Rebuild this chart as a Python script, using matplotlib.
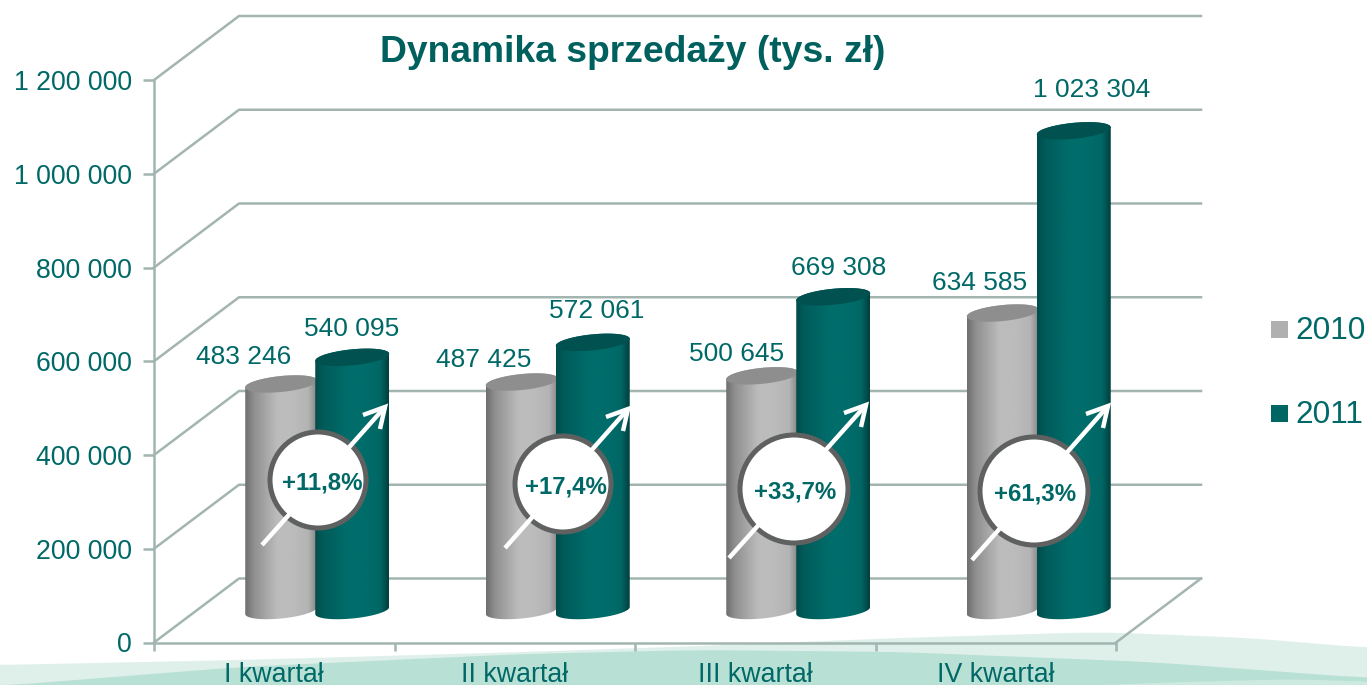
import numpy as np
import matplotlib
matplotlib.use("Agg")
import matplotlib.pyplot as plt
from matplotlib.colors import to_rgb
from matplotlib.patches import Circle, Polygon

plt.rcParams['font.family'] = ['Liberation Sans', 'DejaVu Sans']

# dane
kwartaly = ['I kwartał', 'II kwartał', 'III kwartał', 'IV kwartał']
lata = ['2010', '2011']
sprzedaz_2010 = [483246, 487425, 500645, 634585]
sprzedaz_2011 = [540095, 572061, 669308, 1023304]
dynamika = ['+11,8%', '+17,4%', '+33,7%', '+61,3%']
y_ticks = [0, 200000, 400000, 600000, 800000, 1000000, 1200000]

W, H = 1367, 685
TEAL = '#006967'
LINE = '#a3b5b1'


def gladko(xs, px, py, k=81):
    # krzywa fali wygladzona srednia kroczaca
    y = np.interp(np.arange(-k, W + k + 1), px, py)
    return np.convolve(y, np.ones(k) / k, mode='same')[k:-k]


fig = plt.figure(figsize=(W / 100, H / 100), dpi=100, facecolor='white')

# tlo - fale na dole
bg = fig.add_axes([0, 0, 1, 1], zorder=0)
bg.set_xlim(0, W)
bg.set_ylim(H, 0)
bg.axis('off')
xs = np.arange(0, W + 1)
jasna = gladko(xs, [0, 240, 523, 700, 900, 1100, 1250, 1367], [665, 660, 652, 646, 638, 632, 638, 648])
ciemna = gladko(xs, [0, 240, 523, 700, 900, 1150, 1367], [686, 667, 654, 650, 652, 662, 678])
dol = gladko(xs, [1000, 1150, 1300, 1367], [690, 683, 679, 682])
bg.fill_between(xs, jasna, H, color='#dff0eb', lw=0)
bg.fill_between(xs, ciemna, H, color='#b9e0d4', lw=0)
bg.fill_between(xs, dol, H, color='#cdeae1', lw=0)

# glowny wykres, os y od 642 do 80 px, os x od 154 do 1116 px
x0, x1, y0, y1 = 154, 1116, 642.5, 80
ax = fig.add_axes([x0 / W, 1 - y0 / H, (x1 - x0) / W, (y0 - y1) / H], zorder=1)
ax.patch.set_alpha(0)
ax.set_xlim(0, 4)
ax.set_ylim(0, 1200000)
px_x = 4 / (x1 - x0)
px_y = 1200000 / (y0 - y1)

for s in ['top', 'right']:
    ax.spines[s].set_visible(False)
for s in ['left', 'bottom']:
    ax.spines[s].set_color(LINE)
    ax.spines[s].set_linewidth(1.8)

ax.set_yticks(y_ticks)
ax.set_yticklabels([f'{v:,}'.replace(',', ' ') for v in y_ticks], fontsize=19.2, color=TEAL)
ax.tick_params(axis='y', length=8, width=1.8, color=LINE, pad=8)
ax.set_xticks(range(5))
ax.set_xticklabels([])
ax.tick_params(axis='x', length=6, width=1.8, color=LINE)
ax.set_xticks([i + 0.5 for i in range(4)], minor=True)
ax.set_xticklabels(kwartaly, minor=True, fontsize=19.3, color=TEAL)
ax.tick_params(axis='x', which='minor', length=0, pad=14)

# sciany 3D
dx, dy = 85 * px_x, 64 * px_y
for v in y_ticks:
    ax.plot([0, dx, 4 + dx], [v, v + dy, v + dy], color=LINE, lw=1.8, clip_on=False, zorder=1)
ax.plot([4, 4 + dx], [0, dy], color=LINE, lw=1.8, clip_on=False, zorder=1)

BAZA = 32  # srodek podstawy walca nad osia, px
POL_W, TILT = 8, 3.5


def walec(xc, val, half, cols, top_col, z):
    # walec: gradient w poziomie przyciety do ksztaltu
    off = BAZA * px_y
    tb = np.linspace(np.pi, 2 * np.pi, 40)
    bx = xc + half * px_x * np.cos(tb)
    by = off + (POL_W * np.sin(tb) + TILT * np.cos(tb)) * px_y
    tt = np.linspace(0, np.pi, 40)
    ux = xc + half * px_x * np.cos(tt)
    uy = off + val + (POL_W * np.sin(tt) + TILT * np.cos(tt)) * px_y
    shape = Polygon(np.column_stack([np.r_[bx, ux], np.r_[by, uy]]), closed=True,
                    facecolor='none', edgecolor='none', transform=ax.transData)
    ax.add_patch(shape)
    grad = np.interp(np.linspace(0, 1, 200), [0, .12, .45, .65, .88, 1], [0, 1, 2, 2, 3, 4])
    rgb = np.array([to_rgb(c) for c in cols])
    img = np.stack([np.interp(grad, range(5), rgb[:, k]) for k in range(3)], axis=-1)[None, :, :]
    im = ax.imshow(img, extent=[xc - half * px_x, xc + half * px_x, 0, off + val + 12 * px_y],
                   aspect='auto', zorder=z, clip_on=True)
    im.set_clip_path(shape)
    t = np.linspace(0, 2 * np.pi, 80)
    ax.fill(xc + half * px_x * np.cos(t), off + val + (POL_W * np.sin(t) + TILT * np.cos(t)) * px_y,
            color=top_col, lw=0, zorder=z + 0.1, clip_on=False)


kol_2010 = ['#6e6e6e', '#8f8f8f', '#bcbcbc', '#b4b4b4', '#858585']
kol_2011 = ['#004d4b', '#005c5a', '#006d6b', '#006765', '#003f3e']
for i in range(4):
    pos = i + 0.5
    walec(pos + 7 * px_x, sprzedaz_2010[i], 36, kol_2010, '#8e8e8e', 2 + i * 0.1)
    walec(pos + 78 * px_x, sprzedaz_2011[i], 37, kol_2011, '#005150', 3 + i * 0.1)

ax.set_xlim(0, 4)
ax.set_ylim(0, 1200000)

# etykiety wartosci
przes_2010 = [(-38, 27), (-38, 22), (-26, 22), (-23, 30)]
przes_2011 = [(-1, 28), (4, 31), (5, 29), (18, 41)]
for i in range(4):
    for vals, xo, prz in [(sprzedaz_2010, 7, przes_2010[i]), (sprzedaz_2011, 78, przes_2011[i])]:
        v = vals[i]
        ax.annotate(f'{v:,}'.replace(',', ' '), (i + 0.5 + xo * px_x, v + BAZA * px_y),
                    xytext=(prz[0] * 0.72, prz[1] * 0.72), textcoords='offset points',
                    ha='center', va='center', fontsize=19, color=TEAL, annotation_clip=False, zorder=6)

# nakladka: tytul, kolka, strzalki, legenda (w pikselach)
ov = fig.add_axes([0, 0, 1, 1], zorder=2)
ov.set_xlim(0, W)
ov.set_ylim(H, 0)
ov.axis('off')
ov.patch.set_alpha(0)

ov.text(632.5, 52, 'Dynamika sprzedaży (tys. zł)', fontsize=26.8, fontweight='bold',
        color='#00605e', ha='center', va='center')

kola = [(318, 480, 50), (563, 484, 50), (794, 489, 56), (1034, 491, 56)]
strzalki = [(262, 545, 385, 407), (505, 548, 628, 409), (729, 558, 866, 405), (972, 560, 1108, 406)]
tekst_x = [4, 3, 1, 1]
for (cx, cy, r), (ax0, ay0, ax1, ay1), tekst, tx in zip(kola, strzalki, dynamika, tekst_x):
    ov.plot([ax0, ax1], [ay0, ay1], color='white', lw=3.2, solid_capstyle='butt')
    ov.plot([ax1 - 22, ax1, ax1 - 5], [ay1 + 8, ay1, ay1 + 22], color='white', lw=3.2,
            solid_joinstyle='miter', solid_capstyle='butt')
    ov.add_patch(Circle((cx, cy), r - 2, facecolor='white', edgecolor='#5f6060', lw=3.6))
    ov.text(cx + tx, cy + 3, tekst, fontsize=17.3, fontweight='bold', color=TEAL, ha='center', va='center')

# legenda
for rok, kol, ly in zip(lata, ['#b0b0b0', '#006664'], [330, 414]):
    ov.add_patch(plt.Rectangle((1271, ly - 9), 17, 17, facecolor=kol, edgecolor='none'))
    ov.text(1295, ly + 1, rok, fontsize=22.7, color=TEAL, ha='left', va='center')

fig.savefig('out.png', dpi=100)
